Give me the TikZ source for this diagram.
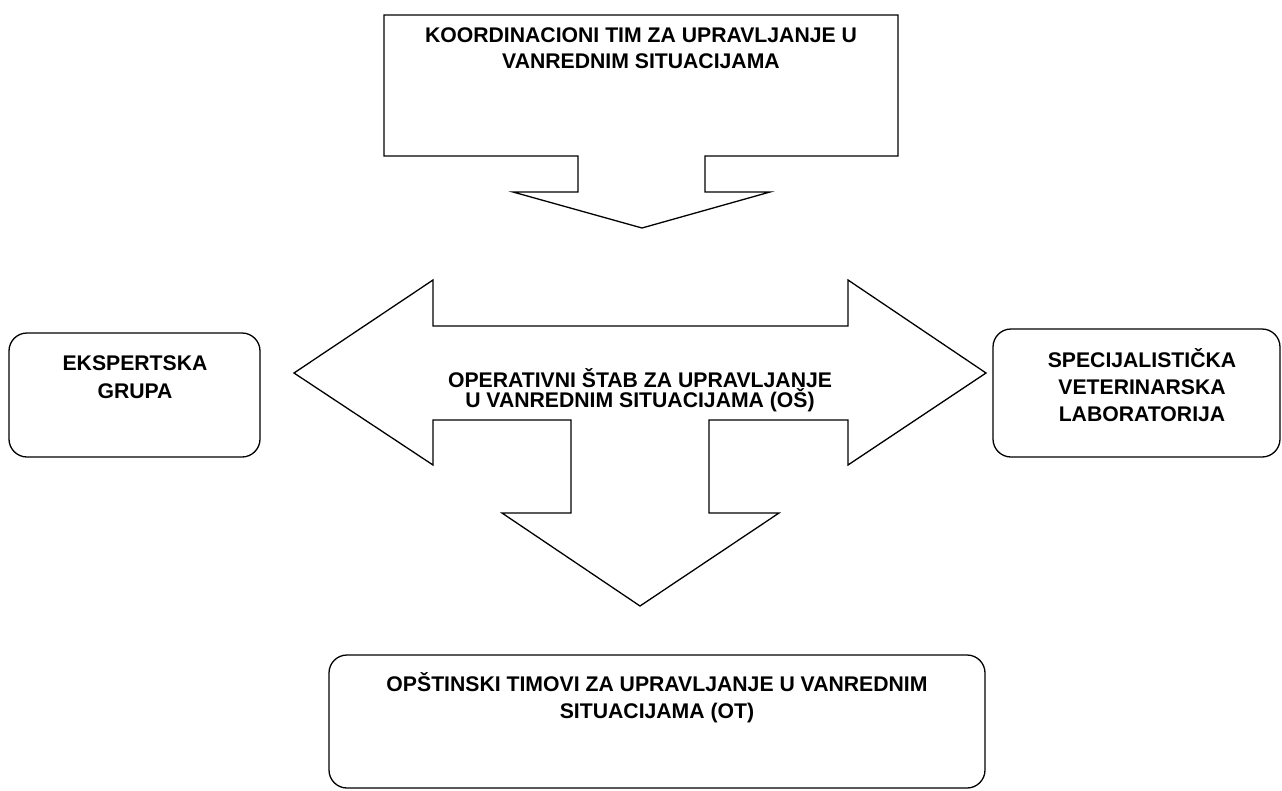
\documentclass[tikz,border=0pt]{standalone}
\usepackage{fontspec}
\setmainfont{Liberation Sans}
\begin{document}
\begin{tikzpicture}[x=1pt,y=-1pt, line width=1.3pt, line join=miter,
  lbl/.style={font=\bfseries\fontsize{21.2}{#1}\selectfont, align=center, inner sep=0pt},
  lbl/.default=27,
  rbox/.style={draw, rounded corners=18pt, inner sep=0pt},
  shapeline/.style={draw, line width=1.3pt}
]
\useasboundingbox (0,0) rectangle (1282,790);

% top box with down-arrow callout
\draw[shapeline] (384,15) -- (898,15) -- (898,156) -- (705,156) -- (705,192) -- (770,192)
  -- (642,228) coordinate (toptip) -- (513,192) -- (578,192) -- (578,156) -- (384,156) -- cycle;
\node[lbl=26.5] (koord) at (641,48) {KOORDINACIONI TIM ZA UPRAVLJANJE U\\VANREDNIM SITUACIJAMA};

% left-right-down arrow
\draw[shapeline] (294,373) coordinate (ltip) -- (433,280) -- (433,326) -- (848,326) -- (848,280)
  -- (986,373) coordinate (rtip) -- (848,465) -- (848,420) -- (709,420) -- (709,513) -- (779,513)
  -- (640,606) coordinate (dtip) -- (502,513) -- (571,513) -- (571,420) -- (433,420) -- (433,465) -- cycle;
\node[lbl=20] (os) at (640,390) {OPERATIVNI ŠTAB ZA UPRAVLJANJE\\U VANREDNIM SITUACIJAMA (OŠ)};

% side boxes
\node[rbox, minimum width=251pt, minimum height=124pt] (ekspbox) at (134.5,395) {};
\node[lbl=28] (eksp) at (135,377) {EKSPERTSKA\\GRUPA};

\node[rbox, minimum width=287pt, minimum height=128pt] (labbox) at (1136.5,393) {};
\node[lbl=27] (lab) at (1142,385) {SPECIJALISTIČKA\\VETERINARSKA\\LABORATORIJA};

% bottom box
\node[rbox, minimum width=656pt, minimum height=133pt] (otbox) at (657,721.5) {};
\node[lbl=27] (ot) at (657,698) {OPŠTINSKI TIMOVI ZA UPRAVLJANJE U VANREDNIM\\SITUACIJAMA (OT)};
\end{tikzpicture}
\end{document}
